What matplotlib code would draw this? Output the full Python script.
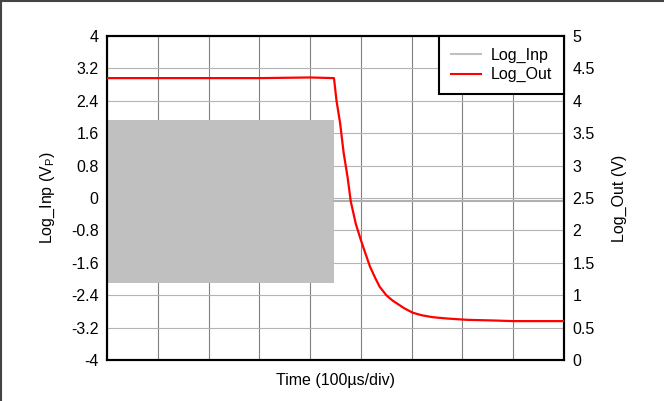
import numpy as np
import matplotlib
matplotlib.use('Agg')
import matplotlib.pyplot as plt
from matplotlib.lines import Line2D

plt.rcParams['font.family'] = ['Liberation Sans', 'DejaVu Sans']

# time in microseconds (100 us/div, 9 divisions)
burst_time = [0, 447]
burst_hi = [1.93, 1.93]
burst_lo = [-2.10, -2.10]
inp_time = [447, 900]
inp_val = [-0.08, -0.08]

out_time = [0, 100, 200, 300, 400, 447, 452, 459, 466, 474, 480, 490, 500,
            510, 518, 528, 537, 550, 562, 585, 602, 620, 642, 670, 709,
            760, 800, 900]
out_val = [4.35, 4.35, 4.35, 4.35, 4.36, 4.35, 4.00, 3.66, 3.20, 2.81,
           2.45, 2.10, 1.85, 1.62, 1.44, 1.27, 1.13, 1.00, 0.92, 0.80,
           0.73, 0.69, 0.66, 0.64, 0.62, 0.61, 0.60, 0.60]

left_ticks = [-4, -3.2, -2.4, -1.6, -0.8, 0, 0.8, 1.6, 2.4, 3.2, 4]
left_labels = ['-4', '-3.2', '-2.4', '-1.6', '-0.8', '0', '0.8', '1.6', '2.4', '3.2', '4']
right_ticks = [0, 0.5, 1, 1.5, 2, 2.5, 3, 3.5, 4, 4.5, 5]
right_labels = ['0', '0.5', '1', '1.5', '2', '2.5', '3', '3.5', '4', '4.5', '5']

fs = 11.5

fig = plt.figure(figsize=(6.64, 4.01), dpi=100)
ax = fig.add_axes([107 / 664, 41 / 401, 457 / 664, 324 / 401])
ax2 = ax.twinx()

ax.set_xlim(0, 900)
ax.set_ylim(-4, 4)
ax2.set_ylim(0, 5)
ax.set_xticks(np.arange(0, 901, 100))
ax.set_xticklabels([])
ax.set_yticks(left_ticks)
ax.set_yticklabels(left_labels)
ax2.set_yticks(right_ticks)
ax2.set_yticklabels(right_labels)

ax.xaxis.grid(True, color='#808080', lw=0.8)
ax.yaxis.grid(True, color='#b4b4b4', lw=0.8)
ax.set_axisbelow(True)

ax.fill_between(burst_time, burst_lo, burst_hi, color='#c0c0c0', lw=0, zorder=2)
ax.plot(inp_time, inp_val, color='#b0b0b0', lw=1.5, zorder=2)
ax2.plot(out_time, out_val, color='#ff0000', lw=1.6, zorder=3)

for a in (ax, ax2):
    a.tick_params(length=0, labelsize=fs, colors='black')
    for s in a.spines.values():
        s.set_linewidth(1.5)
        s.set_color('black')
ax.tick_params(axis='y', pad=6)
ax2.tick_params(axis='y', pad=6)

ax.set_xlabel('Time (100µs/div)', fontsize=fs, labelpad=6)
ax.set_ylabel('Log_Inp (V$_\\mathregular{P}$)', fontsize=fs, labelpad=10)
ax2.set_ylabel('Log_Out (V)', fontsize=fs, labelpad=12)

handles = [Line2D([], [], color='#c0c0c0', lw=1.5),
           Line2D([], [], color='#ff0000', lw=1.5)]
leg = ax2.legend(handles, ['Log_Inp', 'Log_Out'], loc='upper right',
                 borderaxespad=0, fancybox=False, framealpha=1,
                 edgecolor='black', fontsize=fs, handlelength=1.9,
                 handletextpad=0.6, labelspacing=0.25, borderpad=0.75)
leg.get_frame().set_linewidth(1.5)

# figure border (top and left)
fig.add_artist(Line2D([0, 1], [0.998, 0.998], color='#444444', lw=1.5))
fig.add_artist(Line2D([0.001, 0.001], [0, 1], color='#444444', lw=1.5))

fig.savefig('out.png', dpi=100)
